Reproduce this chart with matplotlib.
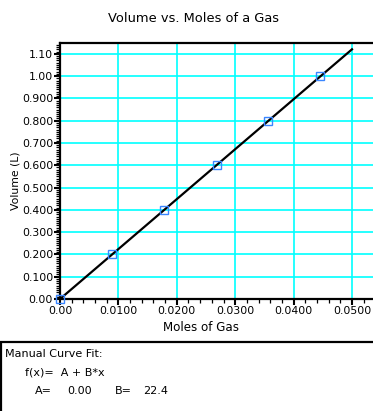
import matplotlib
matplotlib.use("Agg")
import matplotlib.pyplot as plt
from matplotlib.patches import Rectangle
from matplotlib.ticker import MultipleLocator

plt.rcParams['font.family'] = ['DejaVu Sans']

# Data
moles = [0.0, 0.00893, 0.01786, 0.0268, 0.0357, 0.0446]
volume = [0.0, 0.2, 0.4, 0.6, 0.8, 1.0]
fit_x = [0.0, 0.05]
fit_y = [0.0, 1.12]
x_ticks = [0.0, 0.01, 0.02, 0.03, 0.04, 0.05]
x_labels = ["0.00", "0.0100", "0.0200", "0.0300", "0.0400", "0.0500"]
y_ticks = [0.0, 0.1, 0.2, 0.3, 0.4, 0.5, 0.6, 0.7, 0.8, 0.9, 1.0, 1.1]
y_labels = ["0.00", "0.100", "0.200", "0.300", "0.400", "0.500", "0.600",
            "0.700", "0.800", "0.900", "1.00", "1.10"]

W, H = 373, 411
fig = plt.figure(figsize=(W / 100, H / 100), dpi=100)

def fx(px):
    return px / W

def fy(py):
    return 1 - py / H

left, right, top, bottom = 60, 376, 43.3, 299
ax = fig.add_axes([fx(left), fy(bottom), fx(right - left), (bottom - top) / H])
ax.set_xlim(0, 0.05 * (right - left) / (352 - 60))
ax.set_ylim(0, 1.147)

ax.grid(True, which='major', color='#00FFFF', linewidth=1.2)
ax.set_axisbelow(True)

ax.plot(fit_x, fit_y, color='black', linewidth=1.6, zorder=3)
ax.plot(moles, volume, linestyle='none', marker='s', markersize=5.5,
        markerfacecolor='none', markeredgecolor='#3A86FF',
        markeredgewidth=1.0, clip_on=False, zorder=4)

ax.set_xticks(x_ticks)
ax.set_xticklabels(x_labels)
ax.set_yticks(y_ticks)
ax.set_yticklabels(y_labels)
ax.xaxis.set_minor_locator(MultipleLocator(0.002))
ax.yaxis.set_minor_locator(MultipleLocator(0.01))
ax.tick_params(which='major', direction='out', length=4, width=1.5,
               labelsize=7.8, pad=1, colors='black')
ax.tick_params(which='minor', direction='out', length=3, width=0.9)
ax.tick_params(top=False, right=False, which='both')

for s in ['left', 'top', 'bottom']:
    ax.spines[s].set_linewidth(1.6)
ax.spines['right'].set_visible(False)

fig.text(fx(193), fy(19), "Volume vs. Moles of a Gas", ha='center',
         va='center', fontsize=9.4)
fig.text(fx(201), fy(327), "Moles of Gas", ha='center', va='center',
         fontsize=8.6)
fig.text(fx(15), fy(181), "Volume (L)", ha='center', va='center',
         rotation=90, fontsize=7.8)

box = Rectangle((fx(1), fy(413)), fx(380), (413 - 342) / H,
                transform=fig.transFigure, fill=False, edgecolor='black',
                linewidth=1.6, clip_on=False)
fig.add_artist(box)
fs = 8.0
fig.text(fx(5), fy(354), "Manual Curve Fit:", ha='left', va='center',
         fontsize=fs)
fig.text(fx(25), fy(372), "f(x)=  A + B*x", ha='left', va='center',
         fontsize=fs)
fig.text(fx(35), fy(391), "A=", ha='left', va='center', fontsize=fs)
fig.text(fx(67), fy(391), "0.00", ha='left', va='center', fontsize=fs)
fig.text(fx(115), fy(391), "B=", ha='left', va='center', fontsize=fs)
fig.text(fx(143), fy(391), "22.4", ha='left', va='center', fontsize=fs)

fig.savefig("out.png", dpi=100)
